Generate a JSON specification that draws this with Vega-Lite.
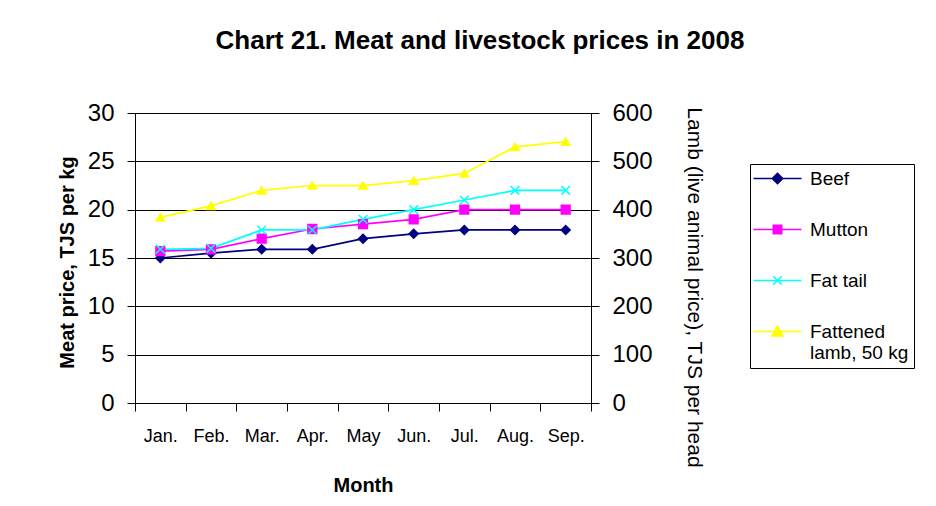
{
  "$schema": "https://vega.github.io/schema/vega-lite/v6.json",
  "width": 456,
  "height": 290,
  "autosize": {"type": "none"},
  "padding": {"left": 135, "top": 113, "right": 345, "bottom": 103},
  "background": "white",
  "config": {
    "font": "Liberation Sans",
    "view": {"fill": "#C0C0C0", "stroke": null},
    "axis": {"domainColor": "black", "tickColor": "black", "labelColor": "black", "titleColor": "black", "tickSize": 8, "domainWidth": 1, "tickWidth": 1}
  },
  "title": {
    "text": "Chart 21. Meat and livestock prices in 2008",
    "fontSize": 26,
    "fontWeight": "bold",
    "color": "black",
    "anchor": "middle",
    "baseline": "alphabetic",
    "dx": 117,
    "offset": 26
  },
  "data": {
    "values": [
      {"month": "Jan.", "series": "Beef", "value": 15},
      {"month": "Feb.", "series": "Beef", "value": 15.5},
      {"month": "Mar.", "series": "Beef", "value": 15.9},
      {"month": "Apr.", "series": "Beef", "value": 15.9},
      {"month": "May", "series": "Beef", "value": 17},
      {"month": "Jun.", "series": "Beef", "value": 17.5},
      {"month": "Jul.", "series": "Beef", "value": 17.9},
      {"month": "Aug.", "series": "Beef", "value": 17.9},
      {"month": "Sep.", "series": "Beef", "value": 17.9},
      {"month": "Jan.", "series": "Mutton", "value": 15.7},
      {"month": "Feb.", "series": "Mutton", "value": 15.9},
      {"month": "Mar.", "series": "Mutton", "value": 17},
      {"month": "Apr.", "series": "Mutton", "value": 18},
      {"month": "May", "series": "Mutton", "value": 18.5},
      {"month": "Jun.", "series": "Mutton", "value": 19},
      {"month": "Jul.", "series": "Mutton", "value": 20},
      {"month": "Aug.", "series": "Mutton", "value": 20},
      {"month": "Sep.", "series": "Mutton", "value": 20},
      {"month": "Jan.", "series": "Fat tail", "value": 15.9},
      {"month": "Feb.", "series": "Fat tail", "value": 16},
      {"month": "Mar.", "series": "Fat tail", "value": 17.9},
      {"month": "Apr.", "series": "Fat tail", "value": 17.9},
      {"month": "May", "series": "Fat tail", "value": 19},
      {"month": "Jun.", "series": "Fat tail", "value": 20},
      {"month": "Jul.", "series": "Fat tail", "value": 21},
      {"month": "Aug.", "series": "Fat tail", "value": 22},
      {"month": "Sep.", "series": "Fat tail", "value": 22},
      {"month": "Jan.", "series": "Fattened lamb, 50 kg", "value": 384},
      {"month": "Feb.", "series": "Fattened lamb, 50 kg", "value": 408},
      {"month": "Mar.", "series": "Fattened lamb, 50 kg", "value": 440},
      {"month": "Apr.", "series": "Fattened lamb, 50 kg", "value": 450},
      {"month": "May", "series": "Fattened lamb, 50 kg", "value": 450},
      {"month": "Jun.", "series": "Fattened lamb, 50 kg", "value": 460},
      {"month": "Jul.", "series": "Fattened lamb, 50 kg", "value": 475},
      {"month": "Aug.", "series": "Fattened lamb, 50 kg", "value": 530},
      {"month": "Sep.", "series": "Fattened lamb, 50 kg", "value": 541}
    ]
  },
  "layer": [
    {
      "transform": [{"filter": "datum.series !== 'Fattened lamb, 50 kg'"}],
      "encoding": {
        "x": {
          "field": "month",
          "type": "ordinal",
          "sort": ["Jan.", "Feb.", "Mar.", "Apr.", "May", "Jun.", "Jul.", "Aug.", "Sep."],
          "scale": {"type": "band", "paddingInner": 0, "paddingOuter": 0},
          "axis": {
            "title": "Month",
            "titleFontSize": 20,
            "titleFontWeight": "bold",
            "titleBaseline": "alphabetic",
            "titleY": 88,
            "labelFontSize": 18,
            "labelAngle": 0,
            "labelPadding": 16,
            "tickBand": "extent",
            "grid": false
          }
        },
        "y": {
          "field": "value",
          "type": "quantitative",
          "scale": {"domain": [0, 30], "nice": false},
          "axis": {
            "orient": "left",
            "values": [0, 5, 10, 15, 20, 25, 30],
            "grid": true,
            "gridColor": "black",
            "gridWidth": 1,
            "gridOpacity": 1,
            "labelFontSize": 24,
            "labelPadding": 13,
            "title": "Meat price, TJS per kg",
            "titleFontSize": 20,
            "titleFontWeight": "bold",
            "titleAngle": -90,
            "titleBaseline": "alphabetic",
            "titleX": -62,
            "titleY": 149
          }
        }
      },
      "layer": [
        {
          "mark": {"type": "line", "strokeWidth": 1.75},
          "encoding": {
            "stroke": {"field": "series", "type": "nominal", "legend": null, "scale": {"domain": ["Beef", "Mutton", "Fat tail", "Fattened lamb, 50 kg"], "range": ["#000080", "#FF00FF", "#00FFFF", "#FFFF00"]}}
          }
        },
        {
          "mark": {"type": "point", "filled": true, "opacity": 1, "strokeWidth": 1.5},
          "encoding": {
            "fill": {"field": "series", "type": "nominal", "legend": null, "scale": {"domain": ["Beef", "Mutton", "Fat tail", "Fattened lamb, 50 kg"], "range": ["#000080", "#FF00FF", "#00FFFF", "#FFFF00"]}},
            "stroke": {"field": "series", "type": "nominal", "legend": null, "scale": {"domain": ["Beef", "Mutton", "Fat tail", "Fattened lamb, 50 kg"], "range": ["#000080", "#FF00FF", "#00FFFF", "#FFFF00"]}},
            "shape": {"field": "series", "type": "nominal", "legend": null, "scale": {"domain": ["Beef", "Mutton", "Fat tail", "Fattened lamb, 50 kg"], "range": ["diamond", "square", "M-1,-1L1,1M-1,1L1,-1", "triangle-up"]}},
            "size": {"field": "series", "type": "nominal", "legend": null, "scale": {"domain": ["Beef", "Mutton", "Fat tail", "Fattened lamb, 50 kg"], "range": [80, 70, 100, 150]}}
          }
        }
      ]
    },
    {
      "transform": [{"filter": "datum.series === 'Fattened lamb, 50 kg'"}],
      "encoding": {
        "x": {
          "field": "month",
          "type": "ordinal",
          "sort": ["Jan.", "Feb.", "Mar.", "Apr.", "May", "Jun.", "Jul.", "Aug.", "Sep."],
          "scale": {"type": "band", "paddingInner": 0, "paddingOuter": 0}
        },
        "y": {
          "field": "value",
          "type": "quantitative",
          "scale": {"domain": [0, 600], "nice": false},
          "axis": {
            "orient": "right",
            "values": [0, 100, 200, 300, 400, 500, 600],
            "grid": false,
            "labelFontSize": 24,
            "labelPadding": 13,
            "title": "Lamb (live animal price), TJS per head",
            "titleFontSize": 21,
            "titleFontWeight": "normal",
            "titleAngle": 90,
            "titleBaseline": "alphabetic",
            "titleX": 96,
            "titleY": 174
          }
        }
      },
      "layer": [
        {
          "mark": {"type": "line", "strokeWidth": 1.75},
          "encoding": {
            "stroke": {"field": "series", "type": "nominal", "legend": null, "scale": {"domain": ["Beef", "Mutton", "Fat tail", "Fattened lamb, 50 kg"], "range": ["#000080", "#FF00FF", "#00FFFF", "#FFFF00"]}}
          }
        },
        {
          "mark": {"type": "point", "filled": true, "opacity": 1, "strokeWidth": 1.5},
          "encoding": {
            "fill": {"field": "series", "type": "nominal", "legend": null, "scale": {"domain": ["Beef", "Mutton", "Fat tail", "Fattened lamb, 50 kg"], "range": ["#000080", "#FF00FF", "#00FFFF", "#FFFF00"]}},
            "stroke": {"field": "series", "type": "nominal", "legend": null, "scale": {"domain": ["Beef", "Mutton", "Fat tail", "Fattened lamb, 50 kg"], "range": ["#000080", "#FF00FF", "#00FFFF", "#FFFF00"]}},
            "shape": {"field": "series", "type": "nominal", "legend": null, "scale": {"domain": ["Beef", "Mutton", "Fat tail", "Fattened lamb, 50 kg"], "range": ["diamond", "square", "M-1,-1L1,1M-1,1L1,-1", "triangle-up"]}},
            "size": {"field": "series", "type": "nominal", "legend": null, "scale": {"domain": ["Beef", "Mutton", "Fat tail", "Fattened lamb, 50 kg"], "range": [80, 70, 100, 150]}}
          }
        }
      ]
    },
    {
      "transform": [{"filter": "false"}],
      "mark": {"type": "point", "filled": true, "opacity": 1, "strokeWidth": 1.5},
      "encoding": {
        "fill": {"field": "series", "type": "nominal", "scale": {"domain": ["Beef", "Mutton", "Fat tail", "Fattened lamb, 50 kg"], "range": ["#000080", "#FF00FF", "#00FFFF", "#FFFF00"]},
          "legend": {"orient": "none", "legendX": 615, "legendY": 51, "title": null, "direction": "vertical", "strokeColor": "black", "fillColor": "white", "padding": 5, "labelFontSize": 19, "labelColor": "black", "symbolSize": 100, "symbolStrokeWidth": 1.5, "symbolOpacity": 1, "symbolOffset": 13, "rowPadding": 31, "labelOffset": 23, "labelExpr": "datum.value === 'Fattened lamb, 50 kg' ? ['Fattened', 'lamb, 50 kg'] : datum.label"}},
        "stroke": {"field": "series", "type": "nominal", "scale": {"domain": ["Beef", "Mutton", "Fat tail", "Fattened lamb, 50 kg"], "range": ["#000080", "#FF00FF", "#00FFFF", "#FFFF00"]},
          "legend": {"orient": "none", "legendX": 615, "legendY": 51, "title": null, "direction": "vertical", "strokeColor": "black", "fillColor": "white", "padding": 5, "labelFontSize": 19, "labelColor": "black", "symbolSize": 100, "symbolStrokeWidth": 1.5, "symbolOpacity": 1, "symbolOffset": 13, "rowPadding": 31, "labelOffset": 23, "labelExpr": "datum.value === 'Fattened lamb, 50 kg' ? ['Fattened', 'lamb, 50 kg'] : datum.label"}},
        "shape": {"field": "series", "type": "nominal", "scale": {"domain": ["Beef", "Mutton", "Fat tail", "Fattened lamb, 50 kg"], "range": ["M-4.8,0L4.8,0M0,-1.05L1.05,0L0,1.05L-1.05,0Z", "M-4.8,0L4.8,0M-0.85,-0.85L0.85,-0.85L0.85,0.85L-0.85,0.85Z", "M-4.8,0L4.8,0M-0.85,-0.85L0.85,0.85M-0.85,0.85L0.85,-0.85", "M-4.8,0L4.8,0M0,-1.1L1.15,0.9L-1.15,0.9Z"]},
          "legend": {"orient": "none", "legendX": 615, "legendY": 51, "title": null, "direction": "vertical", "strokeColor": "black", "fillColor": "white", "padding": 5, "labelFontSize": 19, "labelColor": "black", "symbolSize": 100, "symbolStrokeWidth": 1.5, "symbolOpacity": 1, "symbolOffset": 13, "rowPadding": 31, "labelOffset": 23, "labelExpr": "datum.value === 'Fattened lamb, 50 kg' ? ['Fattened', 'lamb, 50 kg'] : datum.label"}}
      }
    }
  ],
  "resolve": {"scale": {"y": "independent", "shape": "independent", "fill": "independent", "stroke": "independent", "size": "independent"}}
}
